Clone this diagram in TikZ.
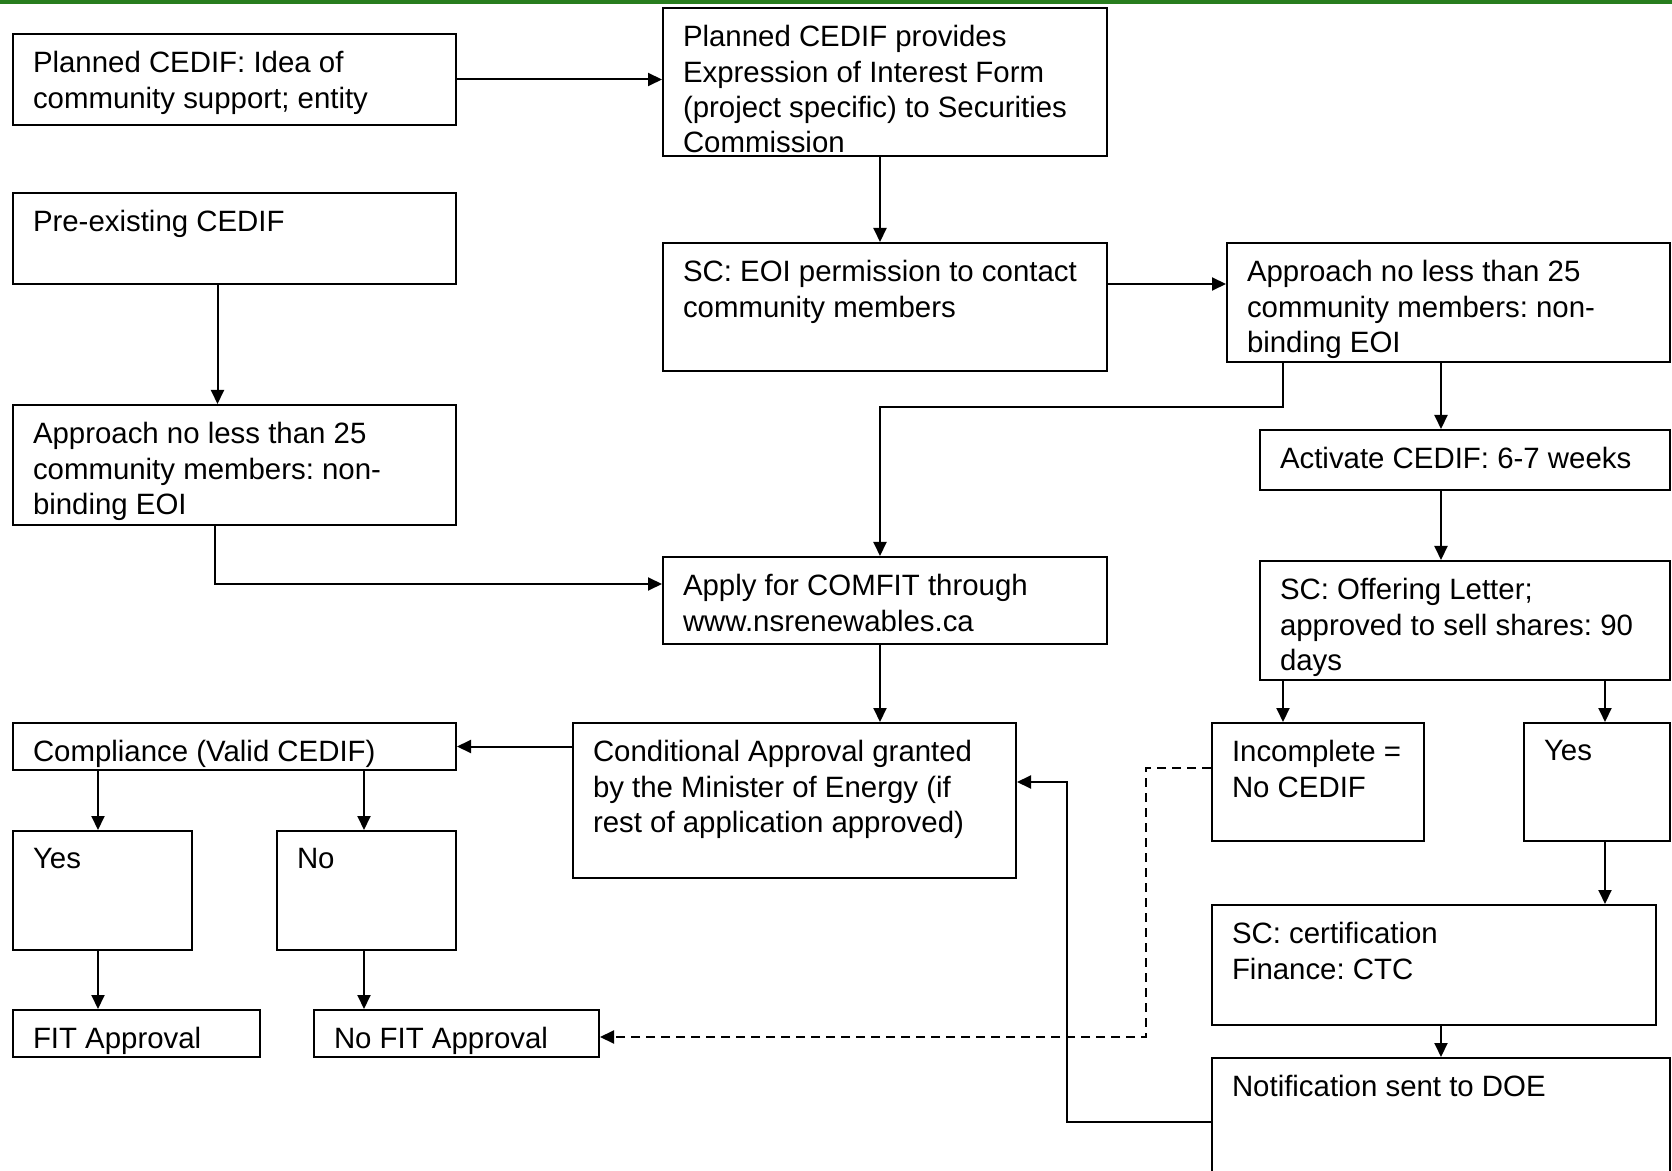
\documentclass[tikz,border=0pt]{standalone}
\usepackage{fontspec}
\setmainfont{Liberation Sans}
\usetikzlibrary{arrows.meta}
\frenchspacing

\definecolor{barDark}{RGB}{40,125,30}
\definecolor{barLight}{RGB}{135,200,60}
\tikzset{
  box/.style={draw, line width=1pt, anchor=north west, inner xsep=10pt, inner ysep=8.8pt,
    font=\fontsize{14.7}{17.6}\selectfont},
  onebox/.style={box, inner ysep=0pt, text height=19.2pt, text depth=4.3pt, align=flush left},
  arr/.style={line width=1pt, -{Triangle[length=7pt,width=6.5pt]}},
}
% text block of a box: width, height, text
\newcommand{\boxtext}[3]{\parbox[t][#2][t]{#1}{\raggedright #3}}

\begin{document}
\begin{tikzpicture}[x=0.5pt, y=-0.5pt]
  \useasboundingbox (0,0) rectangle (1672,1171);
  \shade[left color=barDark, middle color=barLight, right color=barDark] (0,0) rectangle (1672,4);

  % left column
  \node[box] (pcidea) at (12,33) {\boxtext{201.5pt}{27.9pt}{Planned CEDIF: Idea of\\community support; entity}};
  \node[box] (preexist) at (12,192) {\boxtext{201.5pt}{27.9pt}{Pre-existing CEDIF}};
  \node[box] (approachL) at (12,404) {\boxtext{201.5pt}{42.4pt}{Approach no less than 25\\community members: non-\\binding EOI}};
  \node[onebox, text width=201.5pt] (compliance) at (12,722) {Compliance (Valid CEDIF)};
  \node[box] (yesL) at (12,830) {\boxtext{69.5pt}{41.9pt}{Yes}};
  \node[box] (no) at (276,830) {\boxtext{69.5pt}{41.9pt}{No}};
  \node[onebox, text width=103.5pt] (fitok) at (12,1009) {FIT Approval};
  \node[onebox, text width=122.5pt] (nofit) at (313,1009) {No FIT Approval};

  % middle column
  \node[box] (eoiform) at (662,7) {\boxtext{202pt}{56.4pt}{Planned CEDIF provides\\Expression of Interest Form\\(project specific) to Securities\\Commission}};
  \node[box] (scperm) at (662,242) {\boxtext{202pt}{46.4pt}{SC: EOI permission to contact\\community members}};
  \node[box] (apply) at (662,556) {\boxtext{202pt}{25.9pt}{Apply for COMFIT through\\www.nsrenewables.ca}};
  \node[box] (condappr) at (572,722) {\boxtext{201.5pt}{59.9pt}{Conditional Approval granted\\by the Minister of Energy (if\\rest of application approved)}};

  % right column
  \node[box] (approachR) at (1226,242) {\boxtext{201.5pt}{41.9pt}{Approach no less than 25\\community members: non-\\binding EOI}};
  \node[box] (activate) at (1259,429) {\boxtext{185pt}{12.4pt}{Activate CEDIF: 6-7 weeks}};
  \node[box] (offering) at (1259,560) {\boxtext{185pt}{41.9pt}{SC: Offering Letter;\\approved to sell shares: 90\\days}};
  \node[box] (incomplete) at (1211,722) {\boxtext{86pt}{41.4pt}{Incomplete~=\\No CEDIF}};
  \node[box] (yesR) at (1523,722) {\boxtext{53pt}{41.4pt}{Yes}};
  \node[box] (certif) at (1211,904) {\boxtext{202pt}{42.4pt}{SC: certification\\Finance: CTC}};
  \node[box] (notify) at (1211,1057) {\boxtext{209pt}{57.4pt}{Notification sent to DOE}};

  \coordinate (ncol) at (98,0);
  \coordinate (ocol) at (364,0);
  \coordinate (mcol) at (880,0);
  \coordinate (rcol) at (1441,0);
  \coordinate (ycol) at (1605,0);

  % connectors
  \draw[arr] (pcidea) -- (pcidea -| eoiform.west);
  \draw[arr] (eoiform.south -| mcol) -- (scperm.north -| mcol);
  \draw[arr] ([xshift=-8.5pt]preexist.south) -- ([xshift=-8.5pt]approachL.north);
  \draw[arr] ([yshift=-21pt]scperm.north east) -- ([yshift=-21pt]approachR.north west);
  \draw[arr] ([xshift=28.5pt]approachR.south west) -- ++(0,44) -| (apply.north -| mcol);
  \draw[arr] (approachR.south -| rcol) -- (activate.north -| rcol);
  \draw[arr] (activate.south -| rcol) -- (offering.north -| rcol);
  \draw[arr] ([xshift=-9.75pt]approachL.south) |- ([yshift=-14pt]apply.north west);
  \draw[arr] (apply.south -| mcol) -- (condappr.north -| mcol);
  \draw[arr] (condappr.west |- compliance.east) -- (compliance.east);
  \draw[arr] ([xshift=12pt]offering.south west) -- ([xshift=12pt]offering.south west |- incomplete.north);
  \draw[arr] (offering.south -| ycol) -- (yesR.north -| ycol);
  \draw[arr] (yesR.south -| ycol) -- (certif.north -| ycol);
  \draw[arr] (certif.south -| rcol) -- (notify.north -| rcol);
  \draw[arr] (compliance.south -| ncol) -- (yesL.north -| ncol);
  \draw[arr] (compliance.south -| ocol) -- (no.north -| ocol);
  \draw[arr] (yesL.south -| ncol) -- (fitok.north -| ncol);
  \draw[arr] (no.south -| ocol) -- (nofit.north -| ocol);
  \draw[arr] ([yshift=-32.5pt]notify.north west) -- ++(-144,0) |- ([yshift=-30pt]condappr.north east);
  \draw[arr, dash pattern=on 4.3pt off 3.2pt] ([yshift=-23pt]incomplete.north west) -- ++(-65,0) |- ([yshift=-1.75pt]nofit.east);
\end{tikzpicture}
\end{document}
